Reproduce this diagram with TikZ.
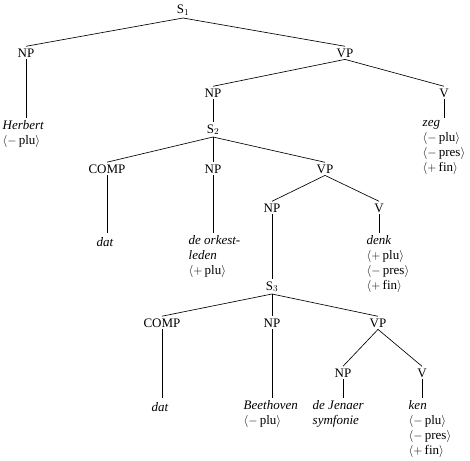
\documentclass[tikz,border=0pt]{standalone}
\usepackage{fontspec}
\setmainfont{Liberation Serif}
\usetikzlibrary{positioning}
\newcommand{\feat}[2]{$\langle#1$\,#2$\rangle$}

\begin{document}
\begin{tikzpicture}[
  x=1pt,y=-1pt,
  font=\fontsize{13}{15}\selectfont,
  cat/.style={anchor=base,inner sep=2pt},
  leaf/.style={anchor=north west,align=left,inner sep=2.5pt,
    execute at begin node=\strut},
  word/.style={anchor=base,inner sep=2.5pt,
    execute at begin node=\strut\itshape},
  branch/.style={line width=0.65pt}
]
\useasboundingbox (0,0) rectangle (470,460);
\node[cat] (s1) at (183,14) {S$_1$};
\node[cat] (np1) at (26,57) {NP};
\node[cat] (vp1) at (345,57) {VP};
\node[cat] (np2) at (213,97) {NP};
\node[cat] (v1) at (444,97) {V};
\node[cat] (s2) at (213,133) {S$_2$};
\node[cat] (comp1) at (107,173) {COMP};
\node[cat] (np3) at (213,173) {NP};
\node[cat] (vp2) at (325,173) {VP};
\node[cat] (np4) at (272,212) {NP};
\node[cat] (v2) at (379,212) {V};
\node[cat] (s3) at (272,290) {S$_3$};
\node[cat] (comp2) at (162,327) {COMP};
\node[cat] (np5) at (272,327) {NP};
\node[cat] (vp3) at (378,327) {VP};
\node[cat] (np6) at (343,377) {NP};
\node[cat] (v3) at (422,377) {V};
\node[leaf] (herbert) at (0,118) {\textit{Herbert}\\\feat{-}{plu}};
\node[leaf] (zeg) at (420,118) {\textit{zeg}\\\feat{-}{plu}\\\feat{-}{pres}\\\feat{+}{fin}};
\node[word] (dat1) at (105,246) {dat};
\node[leaf] (orkest) at (186,233) {\textit{de orkest-}\\\textit{leden}\\\feat{+}{plu}};
\node[leaf] (denk) at (364,233) {\textit{denk}\\\feat{+}{plu}\\\feat{-}{pres}\\\feat{+}{fin}};
\node[word] (dat2) at (160,411) {dat};
\node[leaf] (beethoven) at (241,398) {\textit{Beethoven}\\\feat{-}{plu}};
\node[leaf] (jenaer) at (310,398) {\textit{de Jenaer}\\\textit{symfonie}};
\node[leaf] (ken) at (406,398) {\textit{ken}\\\feat{-}{plu}\\\feat{-}{pres}\\\feat{+}{fin}};
\draw[branch] (s1.south) -- (np1.north);
\draw[branch] (s1.south) -- (vp1.north);
\draw[branch] (np1.south) -- (np1.south |- herbert.north);
\draw[branch] (vp1.south) -- (np2.north);
\draw[branch] (vp1.south) -- (v1.north);
\draw[branch] (v1.south) -- (v1.south |- zeg.north);
\draw[branch] (np2.south) -- (s2.north);
\draw[branch] (s2.south) -- (comp1.north);
\draw[branch] (s2.south) -- (np3.north);
\draw[branch] (s2.south) -- (vp2.north);
\draw[branch] (comp1.south) -- (comp1.south |- dat1.north);
\draw[branch] (np3.south) -- (np3.south |- orkest.north);
\draw[branch] (vp2.south) -- (np4.north);
\draw[branch] (vp2.south) -- (v2.north);
\draw[branch] (v2.south) -- (v2.south |- denk.north);
\draw[branch] (np4.south) -- (s3.north);
\draw[branch] (s3.south) -- (comp2.north);
\draw[branch] (s3.south) -- (np5.north);
\draw[branch] (s3.south) -- (vp3.north);
\draw[branch] (comp2.south) -- (comp2.south |- dat2.north);
\draw[branch] (np5.south) -- (np5.south |- beethoven.north);
\draw[branch] (vp3.south) -- (np6.north);
\draw[branch] (vp3.south) -- (v3.north);
\draw[branch] (np6.south) -- (np6.south |- jenaer.north);
\draw[branch] (v3.south) -- (v3.south |- ken.north);
\end{tikzpicture}
\end{document}
